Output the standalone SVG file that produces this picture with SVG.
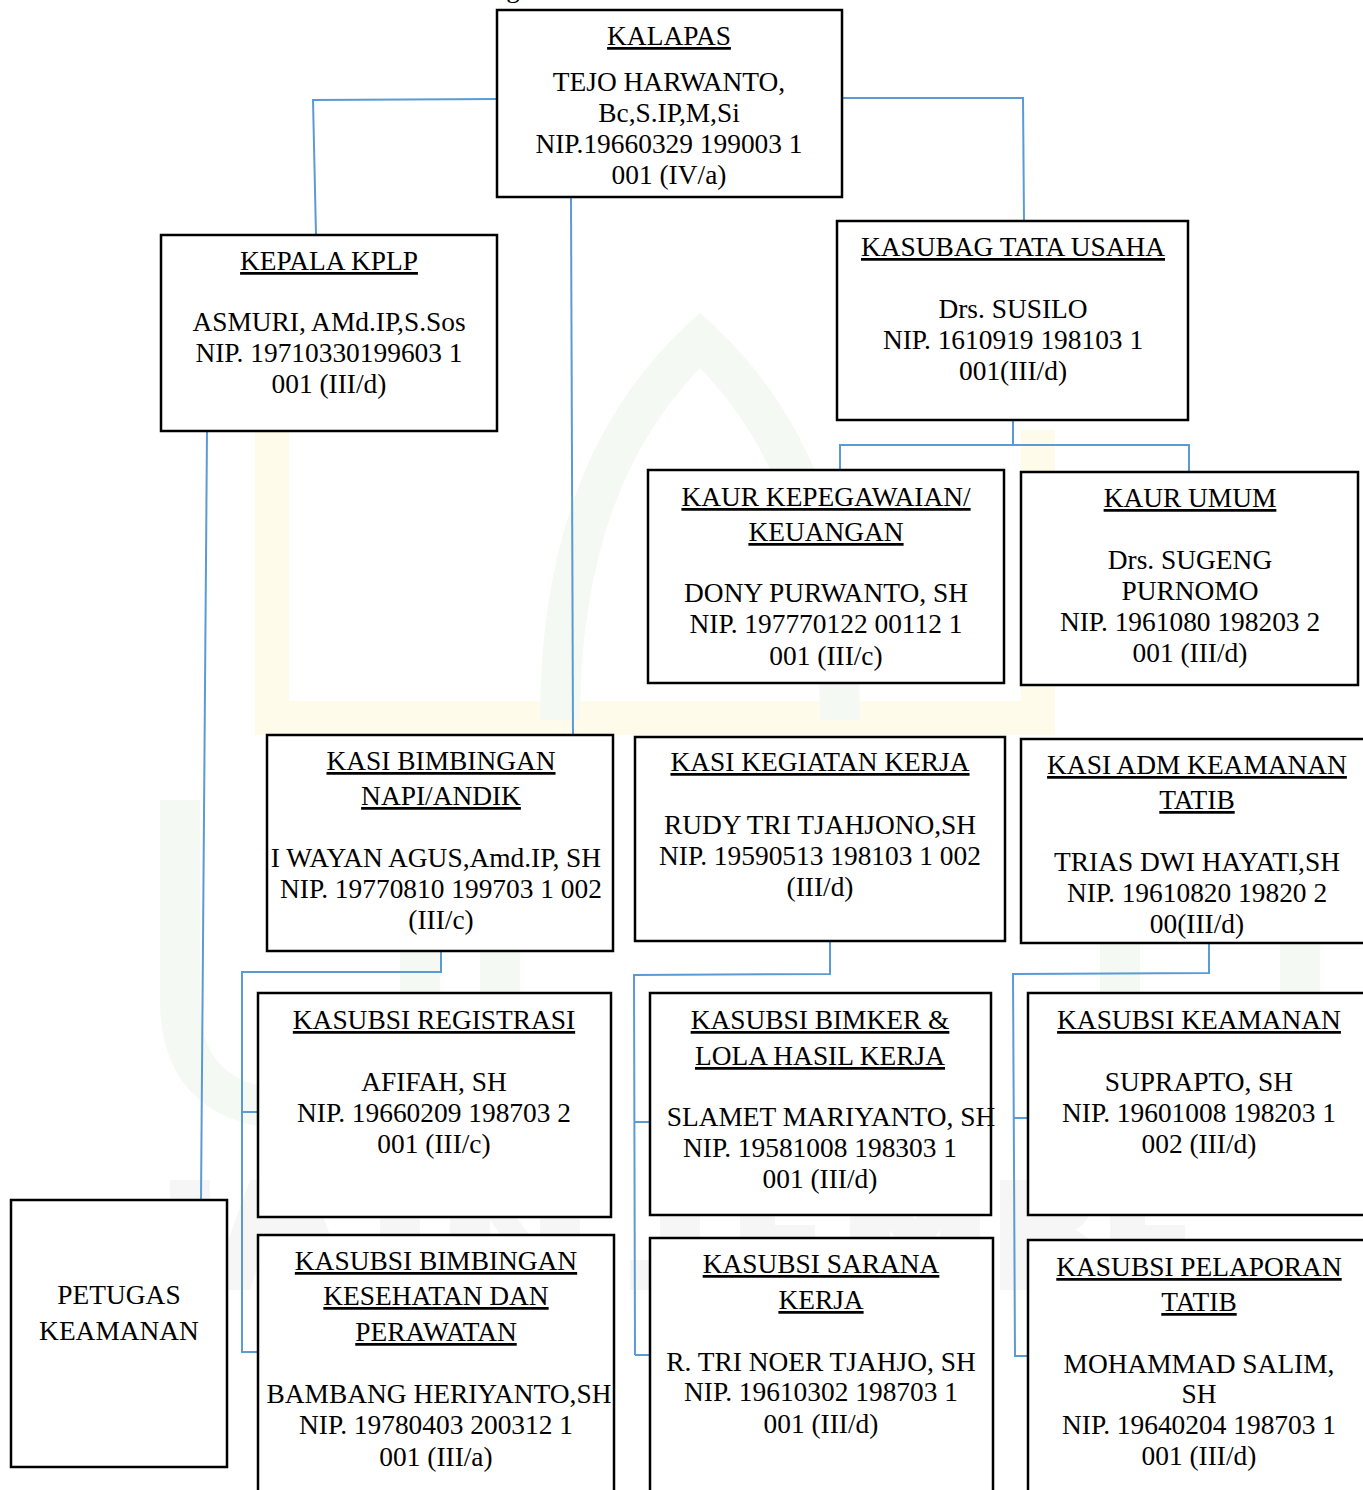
<svg xmlns="http://www.w3.org/2000/svg" width="1363" height="1490" viewBox="0 0 1363 1490">
<style>
.box{fill:#fff;stroke:#000;stroke-width:2.5}
.t{font-family:"Liberation Serif","Times New Roman",serif;font-size:27.4px;fill:#000;text-anchor:middle}
.u{text-decoration:underline}
.c{fill:none;stroke:#5b9bd5;stroke-width:2}
.wy{fill:none;stroke:#fefbeb;stroke-width:34}
.wg{fill:none;stroke:#f4f9f3;stroke-width:40}
.wgr{fill:#f6f6f6}
</style>
<rect x="0" y="0" width="1363" height="1490" fill="#fff"/>
<g id="watermark">
<path class="wy" d="M272 430 V718 H1038 V430"/>
<path class="wg" d="M560 720 Q560 470 700 340 Q840 470 840 720"/>
<path class="wg" d="M180 800 V1000 Q180 1110 300 1110 Q420 1110 420 1000 V800"/>
<path class="wg" d="M500 800 V1080"/>
<path class="wg" d="M1120 800 V1080 M1300 800 V1080"/>
<path class="wgr" d="M170 1180 h40 v110 h-40z M250 1180 h60 l40 110 h-40 l-10 -30 h-40 l-10 30 h-40z M380 1180 h40 v110 h-40z M450 1180 h40 l50 70 v-70 h40 v110 h-40 l-50 -70 v70 h-40z M660 1180 h40 v80 q0 30 -40 30 h-30 v-30 h30z M740 1180 h80 v25 h-45 v20 h40 v25 h-40 v15 h45 v25 h-80z M850 1180 h40 l25 40 l25 -40 h40 v110 h-40 v-60 l-25 35 l-25 -35 v60 h-40z M1000 1180 h55 q35 0 35 27 q0 15 -15 23 q20 8 20 28 q0 32 -40 32 h-55z M1110 1180 h80 v25 h-45 v20 h40 v25 h-40 v15 h45 v25 h-80z"/>
</g>
<text class="t" x="513" y="-3">g</text>
<g id="connectors">
<polyline class="c" points="497,99 313,100 316,235"/>
<polyline class="c" points="842,98 1023,98 1024,221"/>
<polyline class="c" points="571,197 573,735"/>
<polyline class="c" points="207,431 201,1200"/>
<polyline class="c" points="1013,420 1013,445"/>
<polyline class="c" points="840,470 840,445 1189,445 1189,472"/>
<polyline class="c" points="441,951 441,972 242,972 242,1353"/>
<polyline class="c" points="242,1112 262,1112"/>
<polyline class="c" points="242,1352 262,1352"/>
<polyline class="c" points="830,941 830,974 634,975 635,1355"/>
<polyline class="c" points="635,1122 653,1122"/>
<polyline class="c" points="635,1355 653,1355"/>
<polyline class="c" points="1209,943 1209,973 1013,974 1015,1357"/>
<polyline class="c" points="1014,1118 1032,1118"/>
<polyline class="c" points="1015,1356 1032,1356"/>
</g>
<g id="kalapas">
<rect class="box" x="497" y="10" width="345" height="187"/>
<text class="t u" x="669" y="45">KALAPAS</text>
<text class="t" x="669" y="91">TEJO HARWANTO,</text>
<text class="t" x="669" y="122">Bc,S.IP,M,Si</text>
<text class="t" x="669" y="153">NIP.19660329 199003 1</text>
<text class="t" x="669" y="184">001 (IV/a)</text>
</g>
<g id="kepala-kplp">
<rect class="box" x="161" y="235" width="336" height="196"/>
<text class="t u" x="329" y="270">KEPALA KPLP</text>
<text class="t" x="329" y="331">ASMURI, AMd.IP,S.Sos</text>
<text class="t" x="329" y="362">NIP. 19710330199603 1</text>
<text class="t" x="329" y="393">001 (III/d)</text>
</g>
<g id="kasubag-tu">
<rect class="box" x="837" y="221" width="351" height="199"/>
<text class="t u" x="1013" y="256">KASUBAG TATA USAHA</text>
<text class="t" x="1013" y="318">Drs. SUSILO</text>
<text class="t" x="1013" y="349">NIP. 1610919 198103 1</text>
<text class="t" x="1013" y="380">001(III/d)</text>
</g>
<g id="kaur-kepegawaian">
<rect class="box" x="648" y="470" width="356" height="213"/>
<text class="t u" x="826" y="506">KAUR KEPEGAWAIAN/</text>
<text class="t u" x="826" y="541">KEUANGAN</text>
<text class="t" x="826" y="602">DONY PURWANTO, SH</text>
<text class="t" x="826" y="633">NIP. 197770122 00112 1</text>
<text class="t" x="826" y="665">001 (III/c)</text>
</g>
<g id="kaur-umum">
<rect class="box" x="1021" y="472" width="337" height="213"/>
<text class="t u" x="1190" y="507">KAUR UMUM</text>
<text class="t" x="1190" y="569">Drs. SUGENG</text>
<text class="t" x="1190" y="600">PURNOMO</text>
<text class="t" x="1190" y="631">NIP. 1961080 198203 2</text>
<text class="t" x="1190" y="662">001 (III/d)</text>
</g>
<g id="kasi-bimbingan">
<rect class="box" x="267" y="735" width="346" height="216"/>
<text class="t u" x="441" y="770">KASI BIMBINGAN</text>
<text class="t u" x="441" y="805">NAPI/ANDIK</text>
<text class="t" x="436" y="867">I WAYAN AGUS,Amd.IP, SH</text>
<text class="t" x="441" y="898">NIP. 19770810 199703 1 002</text>
<text class="t" x="441" y="929">(III/c)</text>
</g>
<g id="kasi-kegiatan">
<rect class="box" x="635" y="737" width="370" height="204"/>
<text class="t u" x="820" y="771">KASI KEGIATAN KERJA</text>
<text class="t" x="820" y="834">RUDY TRI TJAHJONO,SH</text>
<text class="t" x="820" y="865">NIP. 19590513 198103 1 002</text>
<text class="t" x="820" y="896">(III/d)</text>
</g>
<g id="kasi-adm">
<rect class="box" x="1021" y="739" width="345" height="204"/>
<text class="t u" x="1197" y="774">KASI ADM KEAMANAN</text>
<text class="t u" x="1197" y="809">TATIB</text>
<text class="t" x="1197" y="871">TRIAS DWI HAYATI,SH</text>
<text class="t" x="1197" y="902">NIP. 19610820 19820 2</text>
<text class="t" x="1197" y="933">00(III/d)</text>
</g>
<g id="kasubsi-registrasi">
<rect class="box" x="258" y="993" width="353" height="224"/>
<text class="t u" x="434" y="1029">KASUBSI REGISTRASI</text>
<text class="t" x="434" y="1091">AFIFAH, SH</text>
<text class="t" x="434" y="1122">NIP. 19660209 198703 2</text>
<text class="t" x="434" y="1153">001 (III/c)</text>
</g>
<g id="kasubsi-kesehatan">
<rect class="box" x="258" y="1235" width="356" height="260"/>
<text class="t u" x="436" y="1270">KASUBSI BIMBINGAN</text>
<text class="t u" x="436" y="1305">KESEHATAN DAN</text>
<text class="t u" x="436" y="1341">PERAWATAN</text>
<text class="t" x="439" y="1403">BAMBANG HERIYANTO,SH</text>
<text class="t" x="436" y="1434">NIP. 19780403 200312 1</text>
<text class="t" x="436" y="1466">001 (III/a)</text>
</g>
<g id="petugas-keamanan">
<rect class="box" x="11" y="1200" width="216" height="267"/>
<text class="t" x="119" y="1304">PETUGAS</text>
<text class="t" x="119" y="1340">KEAMANAN</text>
</g>
<g id="kasubsi-bimker">
<rect class="box" x="650" y="993" width="341" height="222"/>
<text class="t u" x="820" y="1029">KASUBSI BIMKER &amp;</text>
<text class="t u" x="820" y="1065">LOLA HASIL KERJA</text>
<text class="t" x="831" y="1126">SLAMET MARIYANTO, SH</text>
<text class="t" x="820" y="1157">NIP. 19581008 198303 1</text>
<text class="t" x="820" y="1188">001 (III/d)</text>
</g>
<g id="kasubsi-sarana">
<rect class="box" x="650" y="1238" width="343" height="260"/>
<text class="t u" x="821" y="1273">KASUBSI SARANA</text>
<text class="t u" x="821" y="1309">KERJA</text>
<text class="t" x="821" y="1371">R. TRI NOER TJAHJO, SH</text>
<text class="t" x="821" y="1401">NIP. 19610302 198703 1</text>
<text class="t" x="821" y="1433">001 (III/d)</text>
</g>
<g id="kasubsi-keamanan">
<rect class="box" x="1028" y="993" width="340" height="222"/>
<text class="t u" x="1199" y="1029">KASUBSI KEAMANAN</text>
<text class="t" x="1199" y="1091">SUPRAPTO, SH</text>
<text class="t" x="1199" y="1122">NIP. 19601008 198203 1</text>
<text class="t" x="1199" y="1153">002 (III/d)</text>
</g>
<g id="kasubsi-pelaporan">
<rect class="box" x="1028" y="1240" width="340" height="260"/>
<text class="t u" x="1199" y="1276">KASUBSI PELAPORAN</text>
<text class="t u" x="1199" y="1311">TATIB</text>
<text class="t" x="1199" y="1373">MOHAMMAD SALIM,</text>
<text class="t" x="1199" y="1403">SH</text>
<text class="t" x="1199" y="1434">NIP. 19640204 198703 1</text>
<text class="t" x="1199" y="1465">001 (III/d)</text>
</g>
</svg>
